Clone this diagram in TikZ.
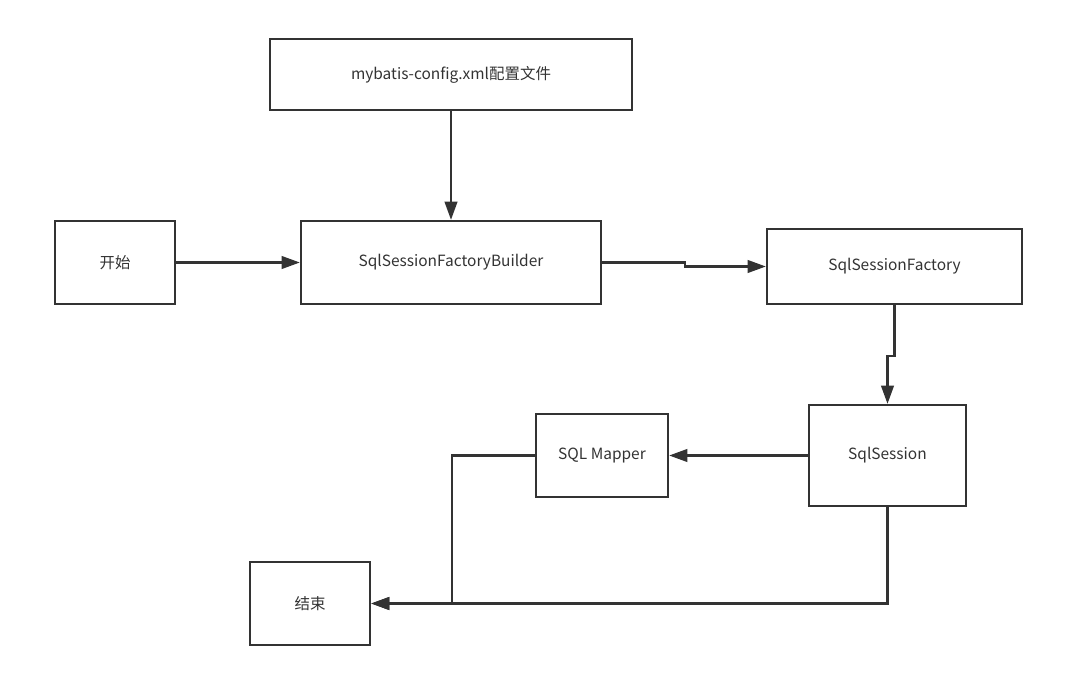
\documentclass[tikz,border=0pt]{standalone}
\usepackage{fontspec}
\setmainfont{Noto Sans CJK SC}
\usepackage{tikz}
\usetikzlibrary{arrows.meta}

\definecolor{linegray}{HTML}{333333}

\tikzset{
  block/.style={draw=linegray, line width=1.6pt, text=linegray, inner sep=0pt, font=\fontsize{11pt}{13pt}\selectfont},
  flow/.style={draw=linegray, line width=1.6pt, -{Triangle[length=13pt,width=9pt]}},
}

\begin{document}
\begin{tikzpicture}[x=0.025cm, y=-0.025cm]
\useasboundingbox (0,0) rectangle (1085,681);

\node[block, minimum width=9.05cm, minimum height=1.775cm] (cfg) at (451,74.5) {mybatis-config.xml配置文件};
\node[block, minimum width=3cm, minimum height=2.075cm] (start) at (115,262.5) {开始};
\node[block, minimum width=7.5cm, minimum height=2.075cm] (builder) at (451,262.5) {SqlSessionFactoryBuilder};
\node[block, minimum width=6.375cm, minimum height=1.875cm] (factory) at (894.5,266.5) {SqlSessionFactory};
\node[block, minimum width=3.925cm, minimum height=2.525cm] (session) at (887.5,455.5) {SqlSession};
\node[block, minimum width=3.3cm, minimum height=2.075cm] (mapper) at (602,455.5) {SQL Mapper};
\node[block, minimum width=3cm, minimum height=2.075cm] (finish) at (310,603.5) {结束};

\path[]
(cfg) edge[flow] (builder)
(start) edge[flow] (builder)
(session) edge[flow] (mapper)
;
\draw[flow] (builder.east) -- ++(83,0) |- (factory.west);
\draw[flow] (factory.south) -- ++(0,51) -| (session.north);
\draw[flow] (mapper.west) -- ++(-83,0) |- (finish.east);
\draw[flow] (session.south) |- (finish.east);
\end{tikzpicture}
\end{document}
